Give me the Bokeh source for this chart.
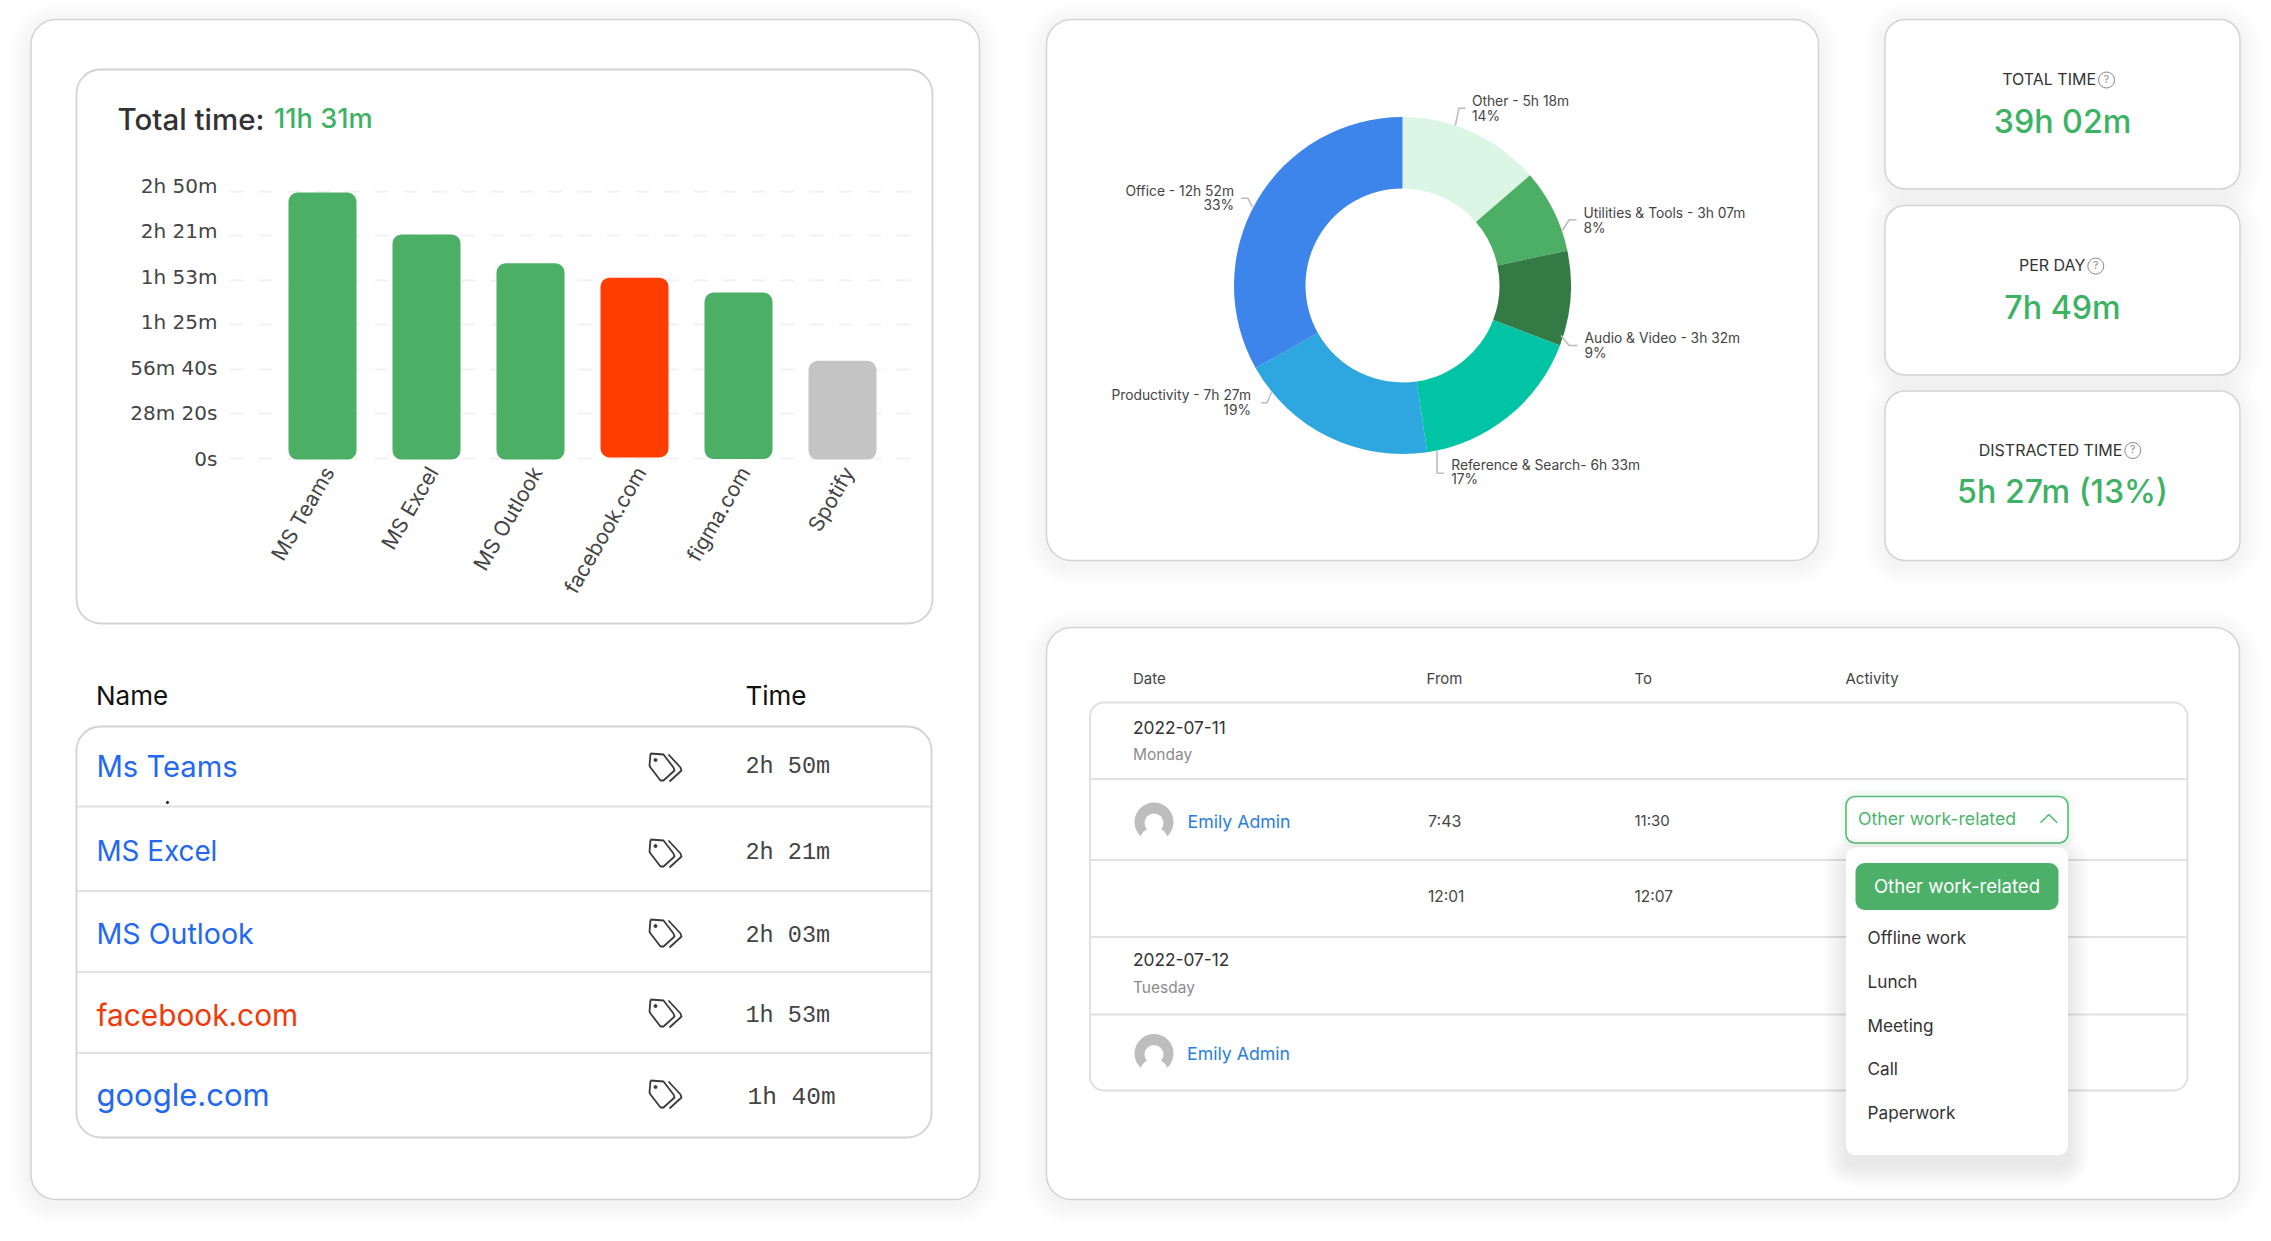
import math
from bokeh.embed import file_html
from bokeh.resources import INLINE
from bokeh.plotting import figure
from bokeh.models import Range1d, FixedTicker, Column
from bokeh.core.properties import value

# ---------- data ----------
bar_names = ["MS Teams", "MS Excel", "MS Outlook", "facebook.com", "figma.com", "Spotify"]
bar_seconds = [10150, 8550, 7450, 6900, 6330, 3730]
bar_bottoms = [-40, -40, -40, 40, -20, -40]
bar_colors = ["#4CAF66", "#4CAF66", "#4CAF66", "#FF3D00", "#4CAF66", "#C4C4C4"]
tick_seconds = [0, 1700, 3400, 5100, 6800, 8500, 10200]
tick_labels = ["0s", "28m 20s", "56m 40s", "1h 25m", "1h 53m", "2h 21m", "2h 50m"]

donut_names = ["Other", "Utilities & Tools", "Audio & Video", "Reference & Search", "Productivity", "Office"]
donut_minutes = [318, 187, 212, 393, 447, 772]
donut_colors = ["#DBF6E5", "#4CAF65", "#347A45", "#00C4A3", "#2EA6E0", "#3D85EA"]
donut_line1 = ["Other - 5h 18m", "Utilities & Tools - 3h 07m", "Audio & Video - 3h 32m",
               "Reference & Search- 6h 33m", "Productivity - 7h 27m", "Office - 12h 52m"]
donut_line2 = ["14%", "8%", "9%", "17%", "19%", "33%"]

table_names = ["Ms Teams", "MS Excel", "MS Outlook", "facebook.com", "google.com"]
table_times = ["2h 50m", "2h 21m", "2h 03m", "1h 53m", "1h 40m"]
kpi_titles = ["TOTAL TIME", "PER DAY", "DISTRACTED TIME"]
kpi_values = ["39h 02m", "7h 49m", "5h 27m (13%)"]
menu_items = ["Offline work", "Lunch", "Meeting", "Call", "Paperwork"]

# ---------- page ----------
W, H = 2263, 1233
PAGE_H = 1241
FONT = "Inter"
MEDIUM = "Inter Medium"
GREEN = "#3DB264"
BLUE = "#2468F2"
DARK = "#333333"


def Y(py):
    return PAGE_H - py


main = figure(width=W, height=H, x_range=Range1d(0, W), y_range=Range1d(PAGE_H - H, PAGE_H),
              x_axis_type=None, y_axis_type=None, toolbar_location=None, output_backend="svg",
              min_border=0, outline_line_color=None, background_fill_color="white",
              border_fill_color="white", frame_align=False)
main.grid.visible = False


def text(x, py, s, size, color=DARK, align="left", font=FONT):
    main.text(x=[x], y=[Y(py - 1)], text=[s], text_font=value(font), text_font_size=f"{size}px",
              text_color=color, text_align=align, text_baseline="middle")


def card(x0, x1, y0, y1, r, shadow=0.0, dy=4, spread=22, stroke="#D3D3D3", lw=1.5, fill="white"):
    if shadow:
        for k in range(spread, 0, -2):
            main.quad(left=[x0 - k], right=[x1 + k], top=[Y(y0 - k + dy)], bottom=[Y(y1 + k + dy)],
                      border_radius=r + k, fill_color="#000000", fill_alpha=shadow, line_color=None)
    main.quad(left=[x0], right=[x1], top=[Y(y0)], bottom=[Y(y1)], border_radius=r,
              fill_color=fill, line_color=stroke, line_width=lw)


def hline(x0, x1, py, color="#E2E2E2", lw=2):
    main.line([x0, x1], [Y(py), Y(py)], line_color=color, line_width=lw)


# ---------- cards ----------
card(30.5, 979, 19, 1199, 25, shadow=0.0035)
card(76, 932, 69, 623, 24, lw=1.8)
card(1046, 1818, 19, 560, 25, shadow=0.0035)
card(1884.5, 2239.5, 19, 188.5, 20, shadow=0.004)
card(1884.5, 2239.5, 205, 374.5, 20, shadow=0.004)
card(1884.5, 2239.5, 390.5, 560, 20, shadow=0.004)
card(1046, 2239, 627, 1199, 25, shadow=0.0035)

# ---------- bar chart title ----------
text(117, 119, "Total time:", 29.5, DARK, font=MEDIUM)
text(273.5, 119, "11h 31m", 27.2, GREEN, font=MEDIUM)

# ---------- left table ----------
text(95.5, 696, "Name", 26, "#111111")
text(745, 696, "Time", 26, "#111111")
card(76, 931, 726, 1137, 24, lw=1.8)
for py in [806, 890.5, 971.5, 1052.5]:
    hline(76.5, 930.5, py)

name_y = [767, 851, 934, 1015, 1095]
name_size = [29.2, 27.8, 28.6, 29.8, 31]
time_y = [767, 853, 936, 1016, 1098]
icon_y = [754, 840, 920, 1000, 1081]
name_c = [BLUE, BLUE, BLUE, "#F03A0A", BLUE]
for i, (n, t) in enumerate(zip(table_names, table_times)):
    text(96, name_y[i], n, name_size[i], name_c[i])
    text(745 if i < 4 else 747, time_y[i], t, 23.5 if i < 4 else 24.5, "#444444", font="Liberation Mono")
    oy = icon_y[i] - 755
    tx = [650, 663, 673, 674, 663, 660, 650, 649, 650]
    ty = [754, 755, 768, 771, 781, 781, 768, 766, 754]
    main.line(tx, [Y(v + oy) for v in ty], line_color="#3A3A3A", line_width=1.8, line_join="round")
    main.line([668, 680, 681, 669], [Y(v + oy) for v in [755, 768, 771, 782]],
              line_color="#3A3A3A", line_width=1.8, line_join="round")
    main.scatter([655], [Y(760.5 + oy)], size=3, color="#3A3A3A")
main.scatter([167], [Y(802)], size=2.2, color="#111111")

# ---------- donut ----------
total = sum(donut_minutes)
angle = math.pi / 2
cx, cy, R, r = 1402, 285, 168.5, 97
for m, c in zip(donut_minutes, donut_colors):
    a2 = angle - 2 * math.pi * m / total
    main.annular_wedge(x=[cx], y=[Y(cy)], inner_radius=r, outer_radius=R, start_angle=a2, end_angle=angle,
                       direction="anticlock", fill_color=c, line_color=None)
    angle = a2

leaders = [
    ([1454.8, 1458.5, 1465], [125, 107.7, 107.7]),
    ([1561.8, 1568.7, 1576], [230, 219.3, 219.3]),
    ([1560.4, 1568.7, 1577], [335, 345, 345]),
    ([1436.5, 1436.5, 1443.4], [450, 472.7, 472.7]),
    ([1271, 1266.6, 1260.6], [391.7, 402.3, 402.3]),
    ([1252, 1247.3, 1240.4], [206.7, 197.7, 197.7]),
]
for xs, ys in leaders:
    main.line(xs, [Y(v) for v in ys], line_color="#BDBDBD", line_width=1.6)

label_pos = [
    (1471.4, 101.7, 116.7, "left"), (1583, 213.3, 228.3, "left"), (1584, 338, 353, "left"),
    (1450.7, 465, 479, "left"), (1250.5, 395, 410, "right"), (1233.5, 191, 205.7, "right"),
]
for s1, s2, (x, y1, y2, al) in zip(donut_line1, donut_line2, label_pos):
    text(x, y1, s1, 13.8, "#444444", align=al)
    text(x, y2, s2, 13.8, "#444444", align=al)

# ---------- KPI cards ----------
kpi_title_y = [79.5, 265.6, 450]
kpi_value_y = [122, 308, 492]
kpi_icon_x = [2106, 2095.3, 2132.3]
for t, v, ty, vy, ix in zip(kpi_titles, kpi_values, kpi_title_y, kpi_value_y, kpi_icon_x):
    text(ix - 10.5, ty, t, 16, "#333333", align="right")
    main.circle(x=[ix], y=[Y(ty)], radius=8, fill_color=None, line_color="#8A8A8A", line_width=1)
    text(ix, ty, "?", 10.5, "#8A8A8A", align="center")
    text(2062, vy, v, 32.2, GREEN, align="center", font=MEDIUM)

# ---------- activity table ----------
for s, x in zip(["Date", "From", "To", "Activity"], [1132.5, 1426, 1634, 1845]):
    text(x, 678.6, s, 15, "#444444")
card(1089.5, 2187, 702, 1090, 14, lw=2, stroke="#E0E0E0")
for py in [778.6, 859.6, 936.4, 1014]:
    hline(1090, 2186.5, py)


def avatar(ax, ay):
    main.circle(x=[ax], y=[Y(ay)], radius=19.5, fill_color="#BDBDBD", line_color=None)
    main.circle(x=[ax], y=[Y(ay + 1)], radius=9.5, fill_color="white", line_color=None)
    main.ellipse(x=[ax], y=[Y(ay + 18.5)], width=28, height=26, fill_color="white", line_color=None)
    main.quad(left=[ax - 21], right=[ax + 21], top=[Y(ay + 16.5)], bottom=[Y(ay + 21)],
              fill_color="white", line_color=None)


text(1132.5, 727.5, "2022-07-11", 17.3, "#333333")
text(1132.5, 755.4, "Monday", 15.5, "#8C8C8C")
avatar(1153.5, 821.5)
text(1187, 821.5, "Emily Admin", 17.7, "#2A7DE1")
text(1427.5, 821, "7:43", 16, "#444444")
text(1634, 821, "11:30", 15, "#444444")
text(1427.5, 897, "12:01", 15.5, "#444444")
text(1634, 897, "12:07", 15.5, "#444444")
text(1132.5, 960, "2022-07-12", 17.3, "#333333")
text(1132.5, 988, "Tuesday", 15.5, "#8C8C8C")
avatar(1153.5, 1053)
text(1186.5, 1053.5, "Emily Admin", 17.7, "#2A7DE1")

# ---------- dropdown ----------
for k in range(8, 0, -1):
    main.quad(left=[1845.5 - k], right=[2067.5 + k], top=[Y(796 - k)], bottom=[Y(842.5 + k)],
              border_radius=8 + k, fill_color=GREEN, fill_alpha=0.012, line_color=None)
card(1845.5, 2067.5, 796, 842.5, 9, stroke="#52BD74", lw=1.6)
text(1857.5, 818.5, "Other work-related", 17.7, "#4CB46C")
main.line([2040, 2048.3, 2056.7], [Y(822.3), Y(814), Y(822.3)], line_color="#52BD74", line_width=1.6)
card(1845.5, 2067.5, 847, 1154.5, 9, shadow=0.006, dy=10, stroke=None, lw=0)
card(1855, 2058, 862.5, 909.5, 9, stroke=None, lw=0, fill="#4CB068")
text(1956.5, 886.4, "Other work-related", 18.6, "white", align="center")
for s, py in zip(menu_items, [938, 982, 1025.7, 1069.3, 1113]):
    text(1867, py, s, 17.2, "#333333")

# ---------- bar chart, own scales and axes ----------
FR_L, FR_R, FR_T, FR_B = 229, 918, 175, 462
POS_L, POS_T = 100, 165
SEC_PX = 10200 / (458 - 190.7)
XU = 104.0
LABEL_SHIFT = 0.06   # rotated category labels sit a little right of the bar centres
TICK_SPREAD = 1.02   # value labels are spaced slightly wider than their gridlines
bar = figure(width=FR_R + 2 - POS_L, height=FR_B - POS_T + 190,
             x_range=Range1d((FR_L - 322) / XU, (FR_R - 322) / XU),
             y_range=Range1d(-(FR_B - 458) * SEC_PX, (458 - FR_T) * SEC_PX),
             toolbar_location=None, output_backend="svg", outline_line_color=None,
             background_fill_color=None, border_fill_color=None, frame_align=False,
             min_border_left=FR_L - POS_L, min_border_right=2, min_border_top=FR_T - POS_T,
             min_border_bottom=190,
             styles={"position": "absolute", "left": f"{POS_L}px", "top": f"{POS_T}px"})
idx = list(range(len(bar_names)))
bar.vbar(x=idx, width=68 / XU, top=bar_seconds, bottom=bar_bottoms, fill_color=bar_colors,
         line_color=None, border_radius=9)
bar.xgrid.visible = False
bar.ygrid.ticker = FixedTicker(ticks=tick_seconds)
bar.ygrid.grid_line_color = "#F2F2F2"
bar.ygrid.grid_line_width = 2
bar.ygrid.grid_line_dash = "14 15"
bar.ygrid.level = "underlay"
label_ticks = [t * TICK_SPREAD for t in tick_seconds]
bar.yaxis.ticker = FixedTicker(ticks=label_ticks)
bar.yaxis.major_label_overrides = {t: l for t, l in zip(label_ticks, tick_labels)}
bar.yaxis.major_label_text_font = "DejaVu Sans"
bar.yaxis.major_label_text_font_size = "20px"
bar.yaxis.major_label_text_color = "#444444"
bar.yaxis.major_label_standoff = 6
cat_ticks = [i + LABEL_SHIFT for i in idx]
bar.xaxis.ticker = FixedTicker(ticks=cat_ticks)
bar.xaxis.major_label_overrides = {t: n for t, n in zip(cat_ticks, bar_names)}
bar.xaxis.major_label_orientation = math.radians(60)
bar.xaxis.major_label_text_font = FONT
bar.xaxis.major_label_text_font_size = "21px"
bar.xaxis.major_label_text_color = "#444444"
bar.xaxis.major_label_standoff = 0
for ax in (bar.xaxis, bar.yaxis):
    ax.axis_line_color = None
    ax.major_tick_line_color = None
    ax.minor_tick_line_color = None

root = Column(children=[main, bar], width=W, height=H, styles={"position": "relative"})
open("out.html", "w").write(file_html(root, INLINE))
